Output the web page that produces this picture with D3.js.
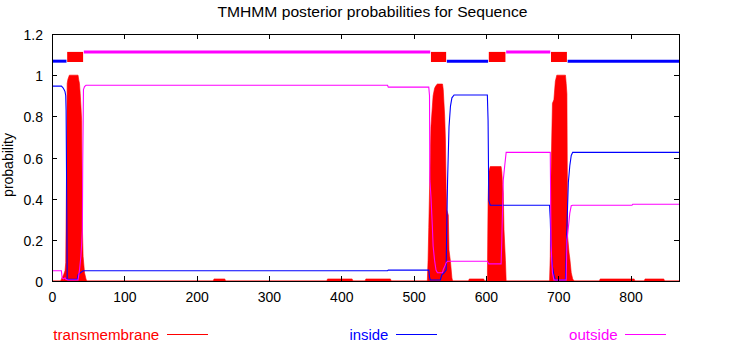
<!DOCTYPE html>
<html><head><meta charset="utf-8">
<script src="https://cdn.jsdelivr.net/npm/d3@7"></script>
<style>
html,body{margin:0;padding:0;background:#fff;}
svg{display:block;}
text{font-family:"Liberation Sans",Arial,Helvetica,sans-serif;}
</style>
</head><body>
<svg id="chart" width="745" height="355"></svg>
<script>
// ---------------- data ----------------
const title = "TMHMM posterior probabilities for Sequence";
const yLabel = "probability";
const seqLength = 867;
const xTicks = [0,100,200,300,400,500,600,700,800];
const yTicks = [0,0.2,0.4,0.6,0.8,1,1.2];
const yTickLabels = ["0","0.2","0.4","0.6","0.8","1","1.2"];

// predicted topology (top bars)
const topoType  = ["inside","TM","outside","TM","inside","TM","outside","TM","inside"];
const topoStart = [1, 21, 44, 524, 546, 604, 628, 690, 713];
const topoEnd   = [20, 43, 523, 545, 603, 627, 689, 712, 867];
const topoLevel = {inside:1.068, outside:1.112};
const tmBoxLow = 1.064, tmBoxHigh = 1.113;

// transmembrane posterior (residue, probability)
const tmPos = [0,12,13,16,18,19,20,21,22,24,36,37,38,39,40,41,42,43,45,47,48,
  223,224,239,240, 380,381,415,416, 433,434,468,469,
  519,520,521,523,524,526,527,529,531,533,540,541,542,543,544,545,546,548,549,551,553,554,
  576,577,597,598,
  602,603,604,606,621,622,623,624,625,627,628,
  688,689,690,691,692,694,696,698,710,711,712,713,715,716,718,720,722,
  757,758,805,806, 819,820,846,847,867];
const tmProb = [0,0,0.01,0.03,0.05,0.089,0.5,0.96,0.98,1.0,1.0,0.977,0.96,0.91,0.85,0.78,0.26,0.12,0.04,0.01,0,
  0,0.01,0.01,0, 0,0.01,0.01,0, 0,0.01,0.01,0,
  0,0.1,0.26,0.6,0.75,0.85,0.9,0.936,0.95,0.957,0.957,0.93,0.865,0.8,0.69,0.45,0.345,0.32,0.15,0.094,0.015,0,
  0,0.01,0.01,0,
  0,0.39,0.53,0.556,0.556,0.53,0.47,0.43,0.25,0.1,0,
  0,0.12,0.5,0.685,0.863,0.88,0.97,1.0,1.0,0.96,0.91,0.215,0.136,0.11,0.04,0.01,0,
  0,0.01,0.01,0, 0,0.01,0.01,0,0];

// inside posterior
const inPos = [0,13,15,17,18,19,19.5,20.5,21,35,36,38,40,43,464,465,521,522,523,537,539,542,545,546,547,549,551,553,556,
  602,603,604,606,688,689,690,692,694,696,710,712,714,716,718,720,867];
const inProb = [0.947,0.947,0.94,0.928,0.92,0.9,0.83,0.3,0.008,0.008,0.03,0.036,0.042,0.05,0.0502,0.053,0.053,0.02,0.005,0.005,0.03,0.04,0.053,0.3,0.49,0.75,0.85,0.89,0.904,
  0.904,0.78,0.39,0.368,0.368,0.3,0.17,0.07,0.03,0.005,0.005,0.26,0.48,0.56,0.61,0.625,0.625];

// outside posterior
const outPos = [0,13,14,16,18,19,22,36,37,38,40,41,42,42.5,43.5,45,47,464,465,521,522,522.5,524,526,527,529,531,533,540,541,543,545,547,
  602,604,621,622,624,626,628,689,690,691,692,694,711,712,714,716,718,720,802,803,867];
const outProb = [0.05,0.05,0.015,0.01,0.015,0.008,0.005,0.005,0.03,0.053,0.12,0.18,0.25,0.57,0.93,0.945,0.951,0.951,0.942,0.942,0.9,0.49,0.41,0.26,0.17,0.1,0.053,0.04,0.04,0.055,0.07,0.089,0.096,
  0.096,0.083,0.083,0.2,0.49,0.56,0.625,0.625,0.2,0.1,0.04,0.005,0.005,0.2,0.26,0.33,0.366,0.368,0.368,0.373,0.373];

const legendLabels = ["transmembrane","inside","outside"];
const colors = {TM:"#ff0000", inside:"#0000ff", outside:"#ff00ff"};
const legendKeys = ["TM","inside","outside"];

// ---------------- drawing ----------------
const svg = d3.select("#chart");
const x = d3.scaleLinear().domain([0, seqLength]).range([52, 679]);
const y = d3.scaleLinear().domain([0, 1.2]).range([281, 34]);

// transmembrane as filled impulses
const tmData = tmPos.map((p,i)=>({p, v:tmProb[i]}));
svg.append("path")
  .datum(tmData)
  .attr("fill", colors.TM)
  .attr("stroke", colors.TM)
  .attr("stroke-width", 0.6)
  .attr("d", d3.area().x(d=>x(d.p)).y0(y(0)).y1(d=>y(d.v)));

const line = d3.line().x(d=>x(d.p)).y(d=>y(d.v));
svg.append("path")
  .datum(inPos.map((p,i)=>({p, v:inProb[i]})))
  .attr("fill","none").attr("stroke",colors.inside).attr("stroke-width",1.1)
  .attr("d", line);
svg.append("path")
  .datum(outPos.map((p,i)=>({p, v:outProb[i]})))
  .attr("fill","none").attr("stroke",colors.outside).attr("stroke-width",1.1)
  .attr("d", line);

// topology bars
const topo = topoType.map((t,i)=>({t, s:topoStart[i], e:topoEnd[i]}));
svg.selectAll("rect.tm").data(topo.filter(d=>d.t==="TM")).enter().append("rect")
  .attr("x", d=>x(d.s)).attr("width", d=>x(d.e)-x(d.s))
  .attr("y", y(tmBoxHigh)).attr("height", y(tmBoxLow)-y(tmBoxHigh))
  .attr("fill", colors.TM);
svg.selectAll("line.topo").data(topo.filter(d=>d.t!=="TM")).enter().append("line")
  .attr("x1", d=>x(d.s)).attr("x2", d=>x(d.e))
  .attr("y1", d=>y(topoLevel[d.t])).attr("y2", d=>y(topoLevel[d.t]))
  .attr("stroke", d=>colors[d.t]).attr("stroke-width", 3);

// axes (gnuplot style, inward ticks on all sides)
const fontSize = 14;
const gB = svg.append("g").attr("transform","translate(0,281)")
  .call(d3.axisBottom(x).tickValues(xTicks).tickSize(-5).tickPadding(11).tickFormat(d3.format("d")));
const gT = svg.append("g").attr("transform","translate(0,34)")
  .call(d3.axisTop(x).tickValues(xTicks).tickSize(-5).tickFormat(""));
const gL = svg.append("g").attr("transform","translate(52,0)")
  .call(d3.axisLeft(y).tickValues(yTicks).tickSize(-5).tickPadding(9).tickFormat((d,i)=>yTickLabels[i]));
const gR = svg.append("g").attr("transform","translate(679,0)")
  .call(d3.axisRight(y).tickValues(yTicks).tickSize(-5).tickFormat(""));
[gB,gT,gL,gR].forEach(g=>{
  g.select(".domain").remove();
  g.selectAll("line").attr("stroke","#000").attr("shape-rendering","crispEdges");
  g.selectAll("text").attr("font-size",fontSize).attr("fill","#000")
   .attr("font-family","'Liberation Sans',Arial,sans-serif");
});
gL.selectAll("text").attr("dy","0.4em");

svg.append("rect").attr("x",52).attr("y",34).attr("width",627).attr("height",247)
  .attr("fill","none").attr("stroke","#000").attr("stroke-width",1).attr("shape-rendering","crispEdges");

// title
svg.append("text").attr("x",372.5).attr("y",17).attr("text-anchor","middle")
  .attr("font-size",14).attr("textLength",310).attr("lengthAdjust","spacingAndGlyphs")
  .text(title);

// y label
svg.append("text").attr("transform","translate(13,165) rotate(-90)")
  .attr("text-anchor","middle").attr("font-size",14).text(yLabel);

// legend
const legX = [53.3, 349.4, 569];
const legW = [106, 39, 48.7];
const legLineX = [[167,208],[396,437],[625,666]];
legendLabels.forEach((lab,i)=>{
  const c = colors[legendKeys[i]];
  svg.append("text").attr("x",legX[i]).attr("y",340).attr("font-size",14)
    .attr("fill",c).attr("textLength",legW[i]).attr("lengthAdjust","spacingAndGlyphs").text(lab);
  svg.append("line").attr("x1",legLineX[i][0]).attr("x2",legLineX[i][1])
    .attr("y1",334.5).attr("y2",334.5).attr("stroke",c).attr("stroke-width",1);
});
</script>
</body></html>
